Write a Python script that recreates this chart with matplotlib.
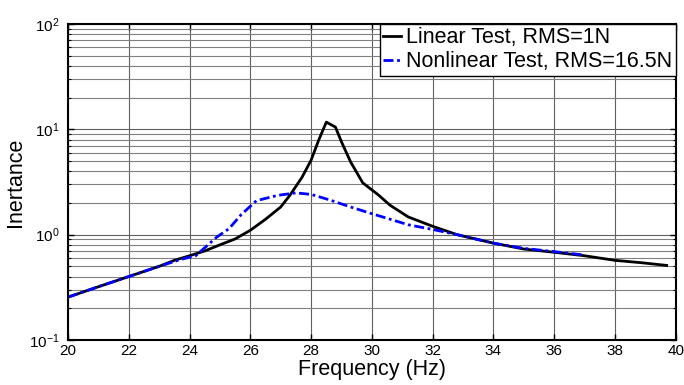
import matplotlib
matplotlib.use("Agg")
import matplotlib.pyplot as plt
from matplotlib.ticker import LogLocator, MultipleLocator, NullFormatter

plt.rcParams['font.family'] = ['Liberation Sans', 'DejaVu Sans']
plt.rcParams['mathtext.fontset'] = 'custom'
plt.rcParams['mathtext.rm'] = 'Liberation Sans'
plt.rcParams['mathtext.it'] = 'Liberation Sans'

lin_freq = [20, 21, 22, 23, 23.5, 24, 24.5, 25, 25.5, 26, 26.5, 27, 27.3, 27.7, 28,
            28.25, 28.5, 28.8, 29.0, 29.3, 29.7, 30.2, 30.6, 31.2, 32, 32.8, 34, 35,
            36, 37, 38, 38.9, 39.7]
lin_val = [0.255, 0.32, 0.40, 0.50, 0.57, 0.63, 0.70, 0.80, 0.91, 1.10, 1.40, 1.83,
           2.36, 3.5, 5.1, 7.9, 11.7, 10.5, 7.6, 4.9, 3.1, 2.4, 1.9, 1.47, 1.20, 1.0,
           0.83, 0.73, 0.68, 0.63, 0.57, 0.54, 0.51]

nl_freq = [20, 21, 22, 23, 23.7, 24.2, 24.9, 25.3, 25.7, 26.2, 26.9, 27.5, 28, 28.6,
           29.3, 30, 30.6, 31.2, 32, 32.8, 34, 35, 36, 37]
nl_val = [0.255, 0.32, 0.40, 0.50, 0.58, 0.63, 0.95, 1.14, 1.55, 2.10, 2.36, 2.49,
          2.41, 2.14, 1.83, 1.58, 1.40, 1.24, 1.12, 1.0, 0.83, 0.74, 0.69, 0.64]

labels = ["Linear Test, RMS=1N", "Nonlinear Test, RMS=16.5N"]

fig = plt.figure(figsize=(6.84, 3.85), dpi=100)
ax = fig.add_axes([0.0994, 0.117, 0.8886, 0.8207])

ax.plot(lin_freq, lin_val, color='black', lw=2.0, label=labels[0])
ax.plot(nl_freq, nl_val, color='#0000ff', lw=2.0, ls=(0, (3.6, 1.3, 1, 1.3)), label=labels[1])

ax.set_yscale('log')
ax.set_xlim(20, 40)
ax.set_ylim(0.1, 100)
ax.xaxis.set_major_locator(MultipleLocator(2))
ax.yaxis.set_major_locator(LogLocator(base=10))
ax.yaxis.set_minor_locator(LogLocator(base=10, subs=range(2, 10)))
ax.yaxis.set_minor_formatter(NullFormatter())

ax.grid(True, which='major', color='#606060', lw=0.8)
ax.grid(True, which='minor', axis='y', color='#808080', lw=0.8)

ax.tick_params(which='both', direction='in', top=True, right=True, labelsize=11)
ax.tick_params(which='major', length=4, width=1)
ax.tick_params(axis='x', which='major', pad=3)
ax.tick_params(axis='y', which='major', pad=6)
ax.tick_params(which='minor', length=2, width=0.8)
for s in ax.spines.values():
    s.set_linewidth(1.5)

ax.set_xlabel('Frequency (Hz)', fontsize=15.5, labelpad=0.5)
ax.set_ylabel('Inertance', fontsize=15.5, labelpad=2)

leg = ax.legend(loc='upper right', fontsize=15.5, frameon=True, fancybox=False,
                borderaxespad=0, handlelength=0.85, handletextpad=0.25,
                borderpad=0.15, labelspacing=0.15, framealpha=1)
leg.get_frame().set_edgecolor('black')
leg.get_frame().set_linewidth(1.0)

fig.savefig('out.png', dpi=100)
